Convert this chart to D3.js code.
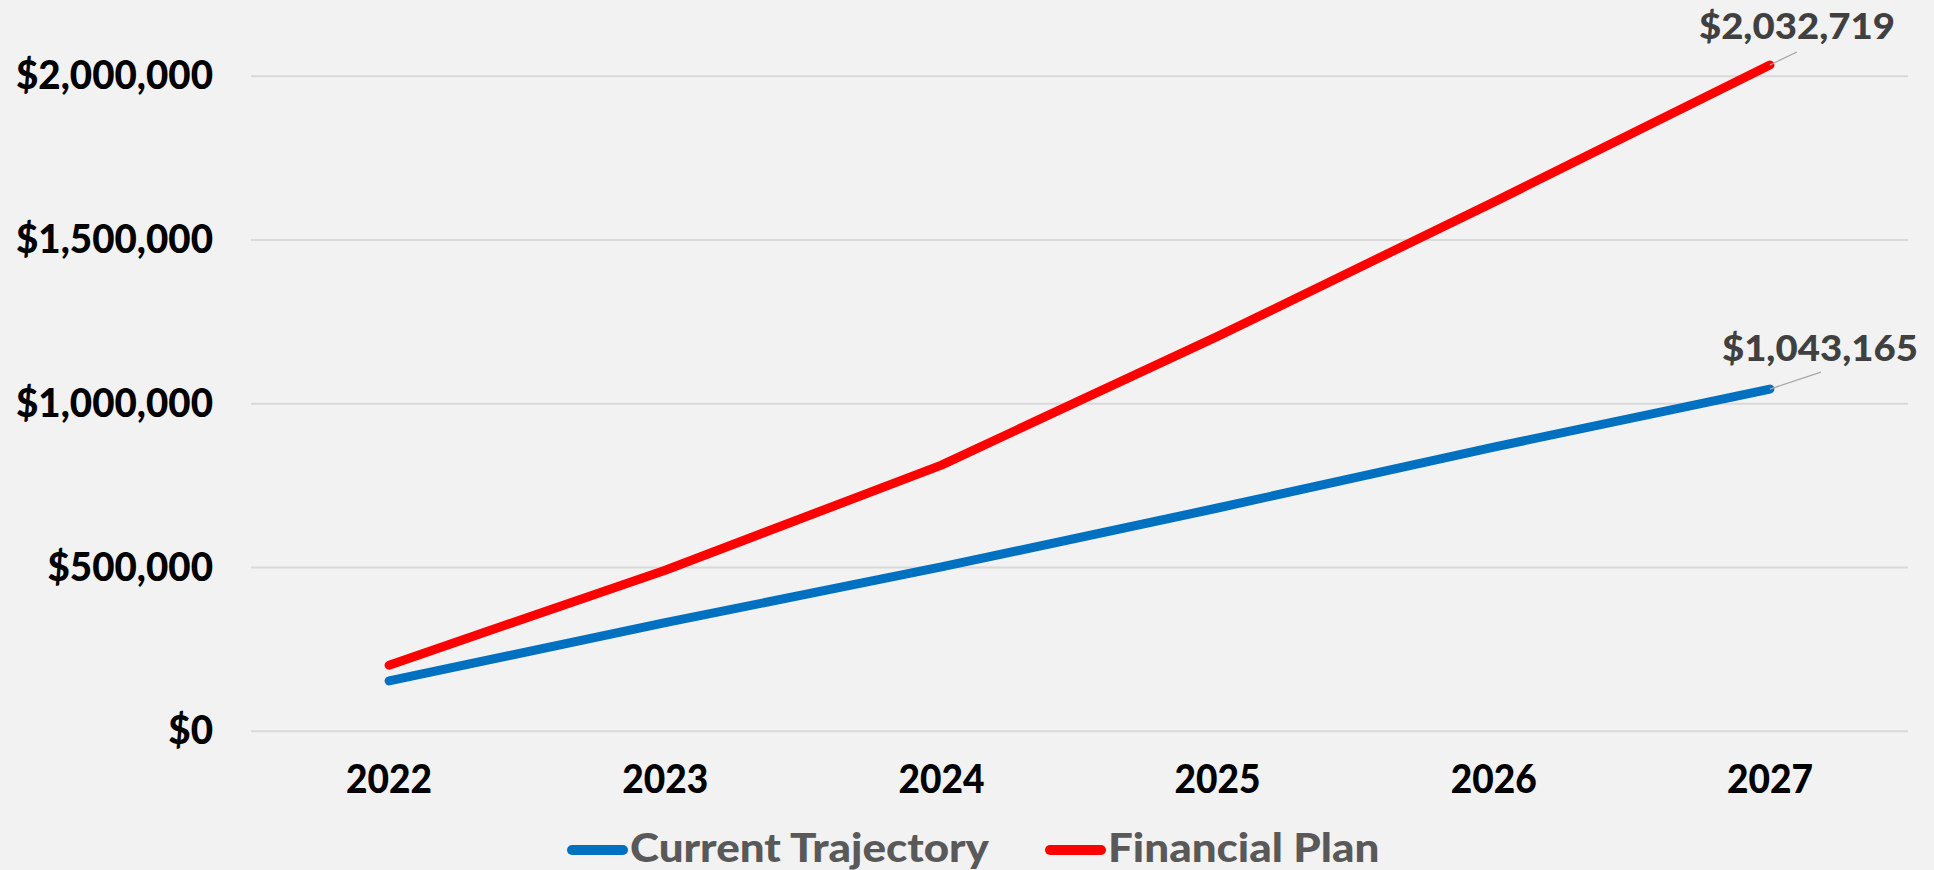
<!DOCTYPE html>
<html>
<head>
<meta charset="utf-8">
<script src="https://cdn.jsdelivr.net/npm/d3@7"></script>
<style>
  html, body { margin: 0; padding: 0; background: #f2f2f2; }
  svg { display: block; }
  text { font-family: Lato, "Open Sans", sans-serif; font-weight: 900; }
</style>
</head>
<body>
<svg id="chart" width="1934" height="870"></svg>
<script>
// ---- data ----
const years = ["2022", "2023", "2024", "2025", "2026", "2027"];
const currentTrajectory = [152000, 330000, 500000, 680000, 866000, 1043165];
const financialPlan = [200000, 490000, 811000, 1204000, 1614000, 2032719];
const seriesNames = ["Current Trajectory", "Financial Plan"];
const yTicks = [0, 500000, 1000000, 1500000, 2000000];

// ---- layout / style ----
const W = 1934, H = 870;
const plot = { left: 251, right: 1908, top: 75.7, bottom: 730.7 };
const colors = ["#0070c0", "#ff0000"];
const FONT = 40;
const LABEL_FONT = 36;

const svg = d3.select("#chart");
svg.append("rect").attr("width", W).attr("height", H).attr("fill", "#f2f2f2");

const x = d3.scaleBand().domain(years).range([plot.left, plot.right]).padding(0);
const y = d3.scaleLinear().domain([0, 2000000]).range([plot.bottom, plot.top]);
const fmt = v => "$" + d3.format(",")(v);

// fit a group of texts so that a reference string gets a target width
function fitGroup(sel, refWidth, target) {
  const k = target / refWidth;
  sel.each(function() {
    const w = this.getComputedTextLength();
    d3.select(this).attr("textLength", w * k).attr("lengthAdjust", "spacingAndGlyphs");
  });
}
function naturalWidth(str, size) {
  const t = svg.append("text").attr("font-size", size).text(str);
  const w = t.node().getComputedTextLength();
  t.remove();
  return w;
}

// gridlines + y labels
const yAxis = d3.axisLeft(y).tickValues(yTicks).tickFormat(fmt)
  .tickSize(-(plot.right - plot.left)).tickPadding(38);
const gy = svg.append("g").attr("transform", `translate(${plot.left},0)`).call(yAxis);
gy.select(".domain").remove();
gy.selectAll(".tick line").attr("stroke", "#d9d9d9").attr("stroke-width", 2);
gy.selectAll(".tick text")
  .attr("font-size", FONT).attr("fill", "#000")
  .attr("font-family", "Lato, sans-serif").attr("font-weight", 900)
  .attr("dy", "0.33em")
  .call(fitGroup, naturalWidth(fmt(2000000), FONT), 197);

// x labels
const xAxis = d3.axisBottom(x).tickSize(0).tickPadding(0);
const gx = svg.append("g").attr("transform", `translate(0,${plot.bottom})`).call(xAxis);
gx.select(".domain").remove();
gx.selectAll(".tick text")
  .attr("font-size", FONT).attr("fill", "#000")
  .attr("font-family", "Lato, sans-serif").attr("font-weight", 900)
  .attr("y", 62).attr("dy", 0)
  .call(fitGroup, naturalWidth("2022", FONT), 86);

// lines
const series = [currentTrajectory, financialPlan];
const line = d3.line().x((d, i) => x(years[i]) + x.bandwidth() / 2).y(d => y(d));
series.forEach((s, k) => {
  svg.append("path").datum(s)
    .attr("d", line)
    .attr("fill", "none")
    .attr("stroke", colors[k])
    .attr("stroke-width", 9)
    .attr("stroke-linecap", "round")
    .attr("stroke-linejoin", "round");
});

// end data labels with leader lines
const labelOffsets = [ { lx: 51, ly: -17, tx: 50, ty: -28 }, { lx: 27, ly: -13, tx: 27, ty: -26 } ];
const dataLabelRef = naturalWidth(fmt(financialPlan[financialPlan.length - 1]), LABEL_FONT);
series.forEach((s, k) => {
  const i = s.length - 1;
  const px = x(years[i]) + x.bandwidth() / 2, py = y(s[i]);
  const o = labelOffsets[k];
  svg.append("line")
    .attr("x1", px).attr("y1", py).attr("x2", px + o.lx).attr("y2", py + o.ly)
    .attr("stroke", "#a6a6a6").attr("stroke-width", 1.3);
  svg.append("text")
    .attr("x", px + o.tx).attr("y", py + o.ty)
    .attr("text-anchor", "middle")
    .attr("font-size", LABEL_FONT).attr("fill", "#404040")
    .text(fmt(s[i]))
    .call(fitGroup, dataLabelRef, 196);
});

// legend
const legend = svg.append("g");
const legendItems = [ { x: 567 }, { x: 1045 } ];
const legendRef = naturalWidth(seriesNames[0], FONT);
seriesNames.forEach((name, k) => {
  const lx = legendItems[k].x;
  legend.append("line")
    .attr("x1", lx + 5).attr("x2", lx + 56).attr("y1", 850).attr("y2", 850)
    .attr("stroke", colors[k]).attr("stroke-width", 10).attr("stroke-linecap", "round");
  legend.append("text")
    .attr("x", lx + 63).attr("y", 862)
    .attr("font-size", FONT).attr("fill", "#595959")
    .text(name)
    .call(fitGroup, legendRef, 359);
});
</script>
</body>
</html>
